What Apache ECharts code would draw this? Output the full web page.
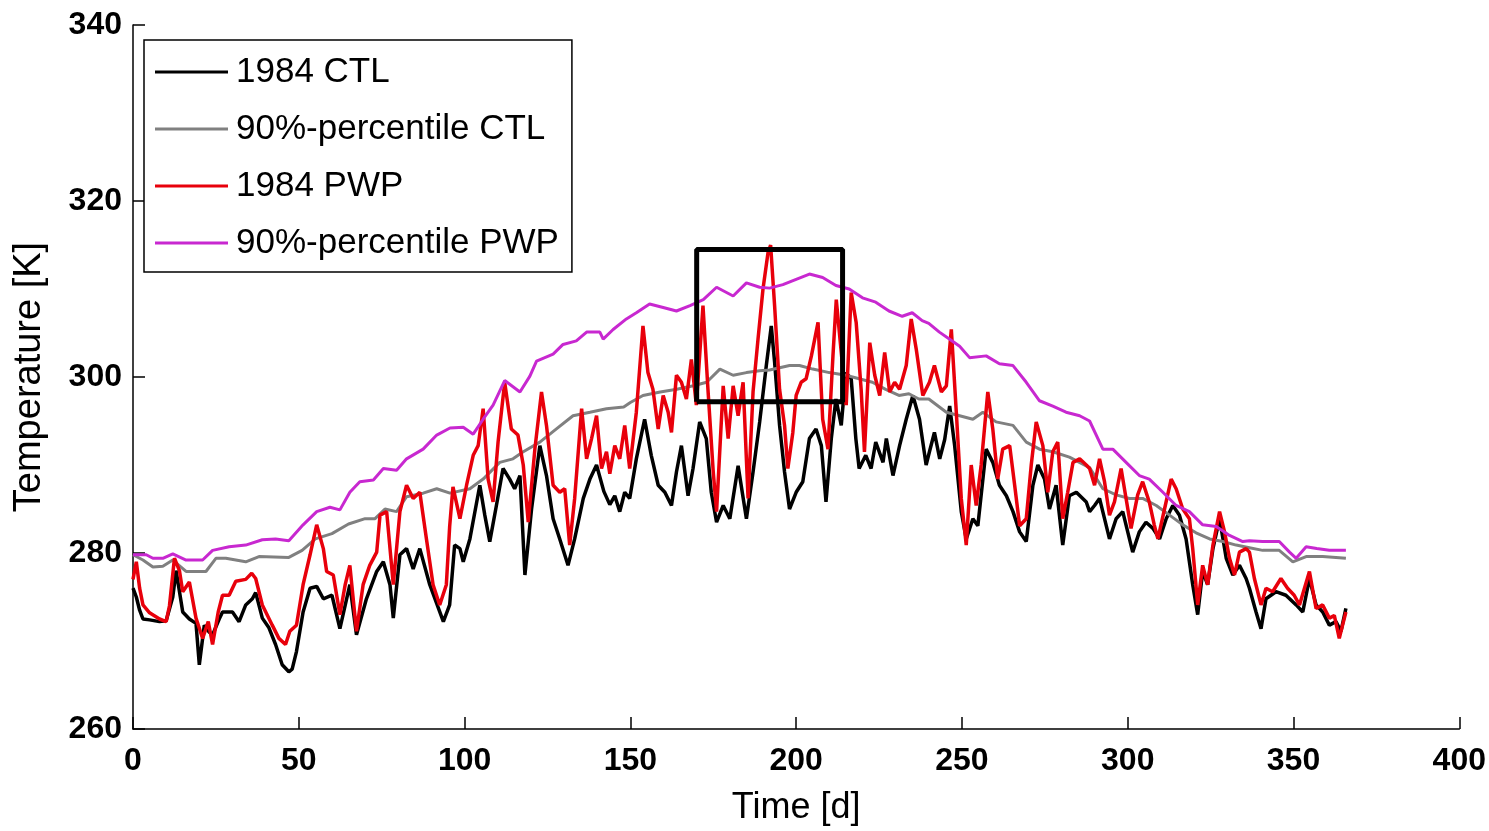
<!DOCTYPE html>
<html>
<head>
<meta charset="utf-8">
<script src="https://cdn.jsdelivr.net/npm/echarts@6/dist/echarts.min.js"></script>
<style>
  html, body { margin: 0; padding: 0; background: #fff; }
  #chart { width: 1489px; height: 831px; }
</style>
</head>
<body>
<div id="chart"></div>
<script>
// 数据：[天, 温度K]
const ctl1984 = [
  [0,276],[1,275],[2,273.5],[3,272.5],[5,272.4],[8,272.2],[10,272.3],[12,275],[13,278],[15,273.3],
  [17,272.5],[19,272],[20,267.3],[21.5,271.8],[23,271],[24,270.7],[26,272.5],[27,273.3],[30,273.3],[32,272.2],
  [34,274.1],[36,274.8],[37,275.5],[39,272.6],[41,271.5],[43,269.6],[45,267.3],[47,266.5],[48,266.8],[49.3,268.8],
  [51.3,273.3],[53.4,276],[55.4,276.2],[57.4,274.8],[60,275.2],[62.4,271.4],[65.4,276.4],[67.4,270.7],[70.4,274.8],[73.5,277.9],
  [75.5,279],[77.5,276.4],[78.5,272.6],[80.5,279.8],[82.5,280.5],[84.5,278.2],[86.5,280.5],[89.5,276.4],[93.6,272.2],[95.5,274.1],
  [97,280.9],[98.6,280.5],[99.6,279],[101.6,281.6],[104.6,287.7],[106.1,284.3],[107.6,281.3],[109.6,285.4],[111.6,289.6],[113.6,288.4],
  [115.1,287.3],[116.7,288.8],[118.2,277.5],[120.2,285],[122.7,292.2],[124.7,288.8],[126.7,283.9],[128.7,281.6],[131.2,278.6],[133.2,281.6],
  [135.8,286.2],[137.8,288.4],[139.8,290],[142,287],[143.8,285.5],[145.3,286.5],[146.8,284.7],[148.3,286.9],[149.8,286.2],[151.8,290.7],
  [154.3,295.2],[156.3,291.1],[158.4,287.7],[160.4,286.9],[162.4,285.4],[163.9,289.2],[165.4,292.2],[167.4,286.5],[168.9,289.6],[170.9,294.9],
  [172.9,293],[174.4,286.9],[176,283.5],[178,285.4],[180,283.9],[182.5,289.9],[185,283.9],[187,289.2],[189,294.9],[191,301.3],
  [192.5,305.8],[193.5,301.7],[195,294.5],[196.5,289.2],[198,285],[200,286.9],[202,288.1],[204,293],[206,294.1],[207.6,292.2],
  [209,285.8],[210.6,293],[212,297.5],[213.6,294.5],[215,300.5],[216.6,299.8],[218,293],[219,289.6],[221,291.1],[222.6,289.6],
  [224,292.6],[226.2,290.3],[227.2,293],[229.2,288.8],[231.2,292.2],[233.2,295.2],[235.2,297.9],[237.2,295.2],[239.2,290],[240.2,291.5],
  [241.7,293.7],[243.3,290.7],[244.8,292.9],[246.3,296.7],[247.8,292.2],[249.8,284.7],[251.3,281.6],[253.3,283.9],[254.8,283.1],[257.3,291.8],
  [259.3,290.3],[261.3,287.7],[263.4,286.5],[265.4,284.7],[267.4,282.4],[269.4,281.3],[271.4,287.7],[272.9,290],[274.9,288.4],[276.4,285],
  [278.4,287.7],[280.4,280.9],[282.4,286.5],[284.5,286.9],[287.5,285.8],[288.5,284.7],[290,285.4],[291.5,286.2],[293,283.9],[294.5,281.6],
  [296.5,283.9],[298.5,284.7],[300,282.4],[301.5,280.1],[303.5,282.4],[305.5,283.5],[307.6,282.8],[309.6,281.6],[311.6,283.9],[313.6,285.4],
  [315.6,284.3],[317.6,281.6],[319.6,276.4],[321.1,273],[322.6,277.9],[324.1,276.4],[325.7,280.5],[327.7,283.9],[329.7,279.4],[331.7,277.5],
  [333.7,278.6],[335.7,277.1],[336.7,276],[338.7,273.3],[340.2,271.4],[341.7,274.8],[344.7,275.6],[347.7,275.2],[350.8,274.1],[352.8,273.3],
  [354.8,277.1],[356.8,274.1],[358.8,273.3],[360.8,271.8],[362.8,272.2],[364.3,271.1],[365.8,273.7]
];

const ctlP90 = [
  [0,279.8],[3,279.2],[6,278.4],[9,278.5],[12,279.2],[16,277.9],[22,277.9],[25,279.4],[28,279.4],[34,279],
  [38,279.6],[47,279.5],[51,280.3],[55,281.6],[60,282.2],[65,283.3],[70,283.9],[73,283.9],[76,285],[79.5,284.7],
  [82.5,286.4],[87.5,286.8],[91.6,287.3],[95.6,286.8],[101.6,287.3],[105.6,288.4],[110.6,290.3],[114.6,290.7],[117.7,291.5],[122.7,292.6],
  [127.7,294.1],[132.7,295.6],[137.8,296],[142.8,296.4],[148,296.6],[150,297.1],[153.8,297.9],[159,298.3],[164,298.6],[169,299],
  [173,299.4],[177,300.9],[181,300.2],[185,300.5],[189,300.7],[192,300.8],[198,301.3],[201,301.3],[205,300.9],[210,300.5],
  [215,300.2],[219,299.8],[223,299.4],[227,298.6],[231,297.9],[234,298.1],[237,297.5],[240,297.5],[245.3,296],[249.3,295.6],
  [253.3,295.2],[256.3,296],[260.3,294.9],[265.4,294.5],[269.4,292.6],[273.4,291.8],[277.4,291.5],[282.4,290.9],[288.5,289.7],[292.5,287.3],
  [296.5,286.6],[300.5,286.2],[304.5,286.2],[308.6,285.4],[312.6,284.3],[316.6,283.2],[320.6,282.3],[324.7,281.6],[328.7,281.3],[332.7,280.9],
  [336.7,280.6],[340.7,280.3],[345.7,280.3],[349.8,279],[353.8,279.6],[358.8,279.6],[365.8,279.4]
];

const pwp1984 = [
  [0,277],[1,279],[2,276],[3,274.1],[5,273.2],[8,272.5],[10,272.2],[11,274],[12.5,279.4],[14,278],
  [15,275.6],[17,276.7],[19,272.6],[21,270.3],[22.7,272.2],[24,269.6],[25.7,273.3],[27,275.2],[29,275.2],[31,276.8],
  [34,277],[35.8,277.7],[37,277.1],[39,274.1],[42,271.8],[44,270.3],[46,269.6],[47.3,271.1],[49.3,271.8],[51.3,276.4],
  [53.4,279.8],[55.4,283.2],[57.4,280.5],[58.4,277.9],[60.4,277.5],[62.4,273],[64,276.4],[65.4,278.6],[67.4,271.1],[69.4,276.4],
  [71.4,278.6],[73.5,280.1],[74.5,284.3],[76.5,284.7],[78.5,276.4],[80.5,284.7],[82.5,287.7],[84.5,286.2],[86.5,286.9],[88.5,281.6],
  [90.5,276.4],[92.5,274.1],[94.5,276.4],[95.5,283],[96.5,287.5],[98.6,283.9],[100.6,287.7],[102.6,291.1],[104.1,292.2],[105.6,296.4],
  [107.1,288.4],[108.6,285.8],[110.1,292.6],[112.1,299.4],[114.1,294.1],[116.1,293.4],[117.7,290],[119.2,283.5],[121.2,291.8],[123.2,298.3],
  [124.7,294.5],[126.7,287.7],[128.7,286.9],[130.2,287.3],[131.7,280.9],[133.2,286.2],[135.3,296.4],[136.8,290.7],[138.3,293],[139.8,295.6],
  [141.3,289.6],[142.8,291.5],[143.8,289],[145.3,292.2],[146.8,290.7],[148.3,294.5],[149.8,289.6],[151.8,296],[153.8,305.8],[155.3,300.5],
  [156.8,298.6],[158.4,294.1],[159.9,297.9],[161.4,296],[162.4,293.7],[163.9,300.2],[165.4,299.4],[166.9,297.5],[168.4,302],[169.9,296.8],
  [171.9,308.1],[173.4,298.6],[175,289.2],[176,284.7],[178,299],[179.5,293],[181,299],[182.5,295.6],[184,299.4],[185.5,286.2],
  [187,298.3],[188.5,304.3],[190,310],[191.5,314.1],[192.3,315],[193.5,308.1],[195,298.6],[196.5,294.5],[197.5,289.6],[199,293.7],
  [200,297.9],[201.5,299.4],[203,299.8],[204.6,302.4],[206.6,306.2],[208,295.2],[209.6,291.8],[211.1,302.4],[212.1,308.8],[213.6,302.8],
  [215.1,296.8],[216.6,309.6],[218.1,306.2],[219.6,298.6],[220.6,291.5],[222.2,303.9],[223.7,300.2],[225.2,297.9],[226.7,302.8],[228.2,298.3],
  [229.7,299.4],[231.2,298.6],[233.2,301.3],[234.7,306.6],[236.2,303.2],[238.2,297.9],[240.2,299.4],[241.7,301.3],[243.8,298.3],[245.3,299],
  [246.8,305.4],[248.3,296],[249.8,286.2],[251.3,280.9],[252.8,290],[254.3,285.4],[255.8,290],[257.8,298.3],[259.3,294.1],[260.8,288.4],
  [262.3,291.8],[264.4,292.2],[265.9,287.7],[267.4,283.1],[269.4,283.9],[270.9,290],[272.4,294.9],[274.4,292.2],[275.9,286.9],[277.4,291.5],
  [278.9,292.6],[280.4,283.9],[281.9,286.9],[283.5,290.3],[285.5,290.7],[287.5,290],[288.5,289.6],[290,287.7],[291.5,290.7],[293,288.1],
  [294.5,284.3],[296,285.8],[298,289.6],[299.5,286.2],[301,282.8],[303,286.6],[304.5,288.1],[306.5,285.8],[308,283.2],[309.1,281.6],
  [311.1,285],[313.1,288.4],[314.6,287.3],[316.6,285],[318.6,283.9],[319.6,280.5],[321.1,274.1],[322.6,278.6],[324.1,276.4],[325.7,280.9],
  [327.7,284.7],[329.2,282.4],[330.7,279.4],[332.2,277.5],[333.7,280.1],[335.7,280.5],[336.7,280.1],[338.2,277.1],[340.2,274.1],[341.7,276],
  [343.7,275.6],[346.2,277.1],[348.2,276],[350.2,275.2],[351.8,274.1],[354.8,277.9],[356.8,273.7],[358.8,274.1],[360.8,272.6],[362.3,272.9],
  [363.8,270.3],[364.8,271.8],[365.8,273.3]
];

const pwpP90 = [
  [0,279.8],[4,279.8],[6,279.4],[9,279.4],[12,279.9],[16,279.2],[21,279.2],[24,280.3],[29,280.7],[34,280.9],
  [39,281.5],[43,281.6],[47,281.4],[51.3,283.2],[55.4,284.7],[59.4,285.2],[62.4,284.9],[65.4,286.9],[68.4,288.1],[72.5,288.3],
  [75.5,289.6],[79.5,289.4],[82.5,290.7],[87.5,291.8],[91.6,293.4],[95.6,294.2],[99.6,294.3],[102.6,293.5],[105.6,295.2],[108.6,296.8],
  [112.1,299.6],[116.7,298.3],[119.7,300.1],[121.7,301.8],[126.7,302.6],[129.7,303.7],[133.7,304.1],[136.8,305.1],[140.8,305.1],[141.8,304.3],
  [144.8,305.4],[148.8,306.6],[151.8,307.3],[155.8,308.3],[159.9,307.9],[163.9,307.5],[168,308.1],[172,308.8],[176,310.2],[181,309.2],
  [185,310.7],[189,310.2],[192,310.1],[196,310.5],[200,311.1],[204,311.7],[208,311.3],[212,310.4],[216,310],[220,309],
  [224,308.5],[228,307.5],[232,306.9],[235,307.3],[238,306.4],[240,306.1],[243.2,305.1],[246.3,304.3],[249.3,303.5],[252.3,302.2],
  [257.3,302.4],[261.3,301.5],[265.4,301.3],[269.4,299.4],[273.4,297.3],[277.4,296.7],[281.4,296],[285.5,295.6],[288.5,295],[292.5,291.8],
  [295.5,291.8],[299.5,290.3],[303.5,288.8],[306.5,288.4],[310.6,286.9],[314.6,285.4],[318.6,284.7],[322.6,283.2],[326.7,283],[330.7,282],
  [334.7,281.3],[336.7,281.4],[340.7,281.3],[345.7,281.3],[348.8,280.1],[350.8,279.4],[353.8,280.7],[357,280.5],[360.8,280.3],[365.8,280.3]
];

// 黑色矩形框（标注区域）
const boxCorners = [[170,297.2],[170,314.5],[214,314.5],[214,297.2],[170,297.2]];

const seriesNames = ['1984 CTL', '90%-percentile CTL', '1984 PWP', '90%-percentile PWP'];
const seriesColors = ['#000000', '#808080', '#e8000b', '#c828d0'];
const seriesData = [ctl1984, ctlP90, pwp1984, pwpP90];

const font = "'Liberation Sans', Arial, sans-serif";

const chart = echarts.init(document.getElementById('chart'));

const lines = seriesData.map((d, i) => ({
  name: seriesNames[i],
  type: 'line',
  data: d,
  symbol: 'none',
  showSymbol: false,
  lineStyle: { color: seriesColors[i], width: i === 0 || i === 2 ? 3.5 : 3 },
  itemStyle: { color: seriesColors[i] },
  z: 2 + i,
  silent: true
}));

lines.push({
  name: 'box',
  type: 'line',
  data: boxCorners,
  symbol: 'none',
  lineStyle: { color: '#000', width: 5 },
  z: 10,
  silent: true
});

chart.setOption({
  animation: false,
  backgroundColor: '#fff',
  grid: { left: 133, right: 29, top: 25, bottom: 100 },
  legend: {
    data: seriesNames,
    orient: 'vertical',
    left: 144,
    top: 40,
    icon: 'rect',
    backgroundColor: '#fff',
    borderColor: '#000',
    borderWidth: 1.5,
    padding: [12, 13, 9, 11],
    itemWidth: 73,
    itemHeight: 3,
    itemGap: 17,
    textStyle: { fontFamily: font, fontSize: 35, lineHeight: 40, color: '#000', padding: [0, 0, 0, 3] }
  },
  xAxis: {
    type: 'value',
    min: 0,
    max: 400,
    interval: 50,
    name: 'Time [d]',
    nameLocation: 'middle',
    nameGap: 61,
    nameTextStyle: { fontFamily: font, fontSize: 36, color: '#000' },
    axisLine: { lineStyle: { color: '#000', width: 1.5 } },
    axisTick: { inside: true, length: 12, lineStyle: { color: '#000', width: 1.5 } },
    axisLabel: { fontFamily: font, fontSize: 32, fontWeight: 'bold', color: '#000', margin: 16 },
    splitLine: { show: false }
  },
  yAxis: {
    type: 'value',
    min: 260,
    max: 340,
    interval: 20,
    name: 'Temperature [K]',
    nameLocation: 'middle',
    nameGap: 84,
    nameTextStyle: { fontFamily: font, fontSize: 38, color: '#000' },
    axisLine: { lineStyle: { color: '#000', width: 1.5 } },
    axisTick: { inside: true, length: 12, lineStyle: { color: '#000', width: 1.5 } },
    axisLabel: { fontFamily: font, fontSize: 32, fontWeight: 'bold', color: '#000', margin: 11 },
    splitLine: { show: false }
  },
  series: lines
});
</script>
</body>
</html>
